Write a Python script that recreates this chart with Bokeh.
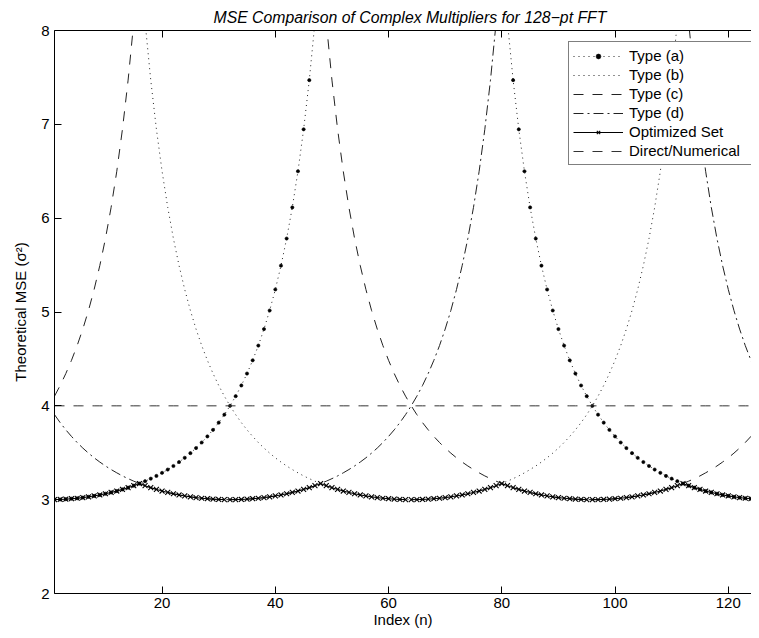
from bokeh.plotting import figure
from bokeh.models import Range1d, LinearAxis, FixedTicker, Legend, LegendItem, Title
from bokeh.embed import file_html
from bokeh.resources import INLINE

nan = float("nan")

# Index n
N = list(range(1, 128))

X_TICKS = [20, 40, 60, 80, 100, 120]
Y_TICKS = [2, 3, 4, 5, 6, 7, 8]

# Type (a): minimum at n=0/128, singular at n=64
TYPE_A = ([3.001, 3.002, 3.005, 3.010, 3.015, 3.022, 3.030, 3.040, 3.050, 3.063,
           3.077, 3.092, 3.109, 3.128, 3.149, 3.172, 3.197, 3.224, 3.253, 3.286,
           3.321, 3.359, 3.401, 3.446, 3.496, 3.550, 3.609, 3.674, 3.744, 3.821,
           3.906, 4.000, 4.103, 4.217, 4.344, 4.485, 4.642, 4.818, 5.016, 5.240,
           5.494, 5.783, 6.115, 6.500, 6.947, 7.471, 8.089, 8.828, 9.723]
          + [nan] * 29 +
          [9.723, 8.828, 8.089, 7.471, 6.947, 6.500, 6.115, 5.783, 5.494, 5.240,
           5.016, 4.818, 4.642, 4.485, 4.344, 4.217, 4.103, 4.000, 3.906, 3.821,
           3.744, 3.674, 3.609, 3.550, 3.496, 3.446, 3.401, 3.359, 3.321, 3.286,
           3.253, 3.224, 3.197, 3.172, 3.149, 3.128, 3.109, 3.092, 3.077, 3.063,
           3.050, 3.040, 3.030, 3.022, 3.015, 3.010, 3.005, 3.002, 3.001])

# Type (b): minimum at n=64
TYPE_B = ([nan] * 14 +
          [9.723, 8.828, 8.089, 7.471, 6.947, 6.500, 6.115, 5.783, 5.494, 5.240,
           5.016, 4.818, 4.642, 4.485, 4.344, 4.217, 4.103, 4.000, 3.906, 3.821,
           3.744, 3.674, 3.609, 3.550, 3.496, 3.446, 3.401, 3.359, 3.321, 3.286,
           3.253, 3.224, 3.197, 3.172, 3.149, 3.128, 3.109, 3.092, 3.077, 3.063,
           3.050, 3.040, 3.030, 3.022, 3.015, 3.010, 3.005, 3.002, 3.001, 3.000,
           3.001, 3.002, 3.005, 3.010, 3.015, 3.022, 3.030, 3.040, 3.050, 3.063,
           3.077, 3.092, 3.109, 3.128, 3.149, 3.172, 3.197, 3.224, 3.253, 3.286,
           3.321, 3.359, 3.401, 3.446, 3.496, 3.550, 3.609, 3.674, 3.744, 3.821,
           3.906, 4.000, 4.103, 4.217, 4.344, 4.485, 4.642, 4.818, 5.016, 5.240,
           5.494, 5.783, 6.115, 6.500, 6.947, 7.471, 8.089, 8.828, 9.723]
          + [nan] * 14)

# Type (c): minimum at n=96, singular at n=32
TYPE_C = ([4.103, 4.217, 4.344, 4.485, 4.642, 4.818, 5.016, 5.240, 5.494, 5.783,
           6.115, 6.500, 6.947, 7.471, 8.089, 8.828, 9.723]
          + [nan] * 29 +
          [9.723, 8.828, 8.089, 7.471, 6.947, 6.500, 6.115, 5.783, 5.494, 5.240,
           5.016, 4.818, 4.642, 4.485, 4.344, 4.217, 4.103, 4.000, 3.906, 3.821,
           3.744, 3.674, 3.609, 3.550, 3.496, 3.446, 3.401, 3.359, 3.321, 3.286,
           3.253, 3.224, 3.197, 3.172, 3.149, 3.128, 3.109, 3.092, 3.077, 3.063,
           3.050, 3.040, 3.030, 3.022, 3.015, 3.010, 3.005, 3.002, 3.001, 3.000,
           3.001, 3.002, 3.005, 3.010, 3.015, 3.022, 3.030, 3.040, 3.050, 3.063,
           3.077, 3.092, 3.109, 3.128, 3.149, 3.172, 3.197, 3.224, 3.253, 3.286,
           3.321, 3.359, 3.401, 3.446, 3.496, 3.550, 3.609, 3.674, 3.744, 3.821,
           3.906])

# Type (d): minimum at n=32, singular at n=96
TYPE_D = ([3.906, 3.821, 3.744, 3.674, 3.609, 3.550, 3.496, 3.446, 3.401, 3.359,
           3.321, 3.286, 3.253, 3.224, 3.197, 3.172, 3.149, 3.128, 3.109, 3.092,
           3.077, 3.063, 3.050, 3.040, 3.030, 3.022, 3.015, 3.010, 3.005, 3.002,
           3.001, 3.000,
           3.001, 3.002, 3.005, 3.010, 3.015, 3.022, 3.030, 3.040, 3.050, 3.063,
           3.077, 3.092, 3.109, 3.128, 3.149, 3.172, 3.197, 3.224, 3.253, 3.286,
           3.321, 3.359, 3.401, 3.446, 3.496, 3.550, 3.609, 3.674, 3.744, 3.821,
           3.906, 4.000, 4.103, 4.217, 4.344, 4.485, 4.642, 4.818, 5.016, 5.240,
           5.494, 5.783, 6.115, 6.500, 6.947, 7.471, 8.089, 8.828, 9.723]
          + [nan] * 29 +
          [9.723, 8.828, 8.089, 7.471, 6.947, 6.500, 6.115, 5.783, 5.494, 5.240,
           5.016, 4.818, 4.642, 4.485, 4.344, 4.217, 4.103])

# Optimized set (best of the four types at each n)
OPTIMIZED = [3.001, 3.002, 3.005, 3.010, 3.015, 3.022, 3.030, 3.040, 3.050, 3.063,
             3.077, 3.092, 3.109, 3.128, 3.149, 3.172, 3.149, 3.128, 3.109, 3.092,
             3.077, 3.063, 3.050, 3.040, 3.030, 3.022, 3.015, 3.010, 3.005, 3.002,
             3.001,
             3.000, 3.001, 3.002, 3.005, 3.010, 3.015, 3.022, 3.030, 3.040, 3.050,
             3.063, 3.077, 3.092, 3.109, 3.128, 3.149, 3.172, 3.149, 3.128, 3.109,
             3.092, 3.077, 3.063, 3.050, 3.040, 3.030, 3.022, 3.015, 3.010, 3.005,
             3.002, 3.001,
             3.000, 3.001, 3.002, 3.005, 3.010, 3.015, 3.022, 3.030, 3.040, 3.050,
             3.063, 3.077, 3.092, 3.109, 3.128, 3.149, 3.172, 3.149, 3.128, 3.109,
             3.092, 3.077, 3.063, 3.050, 3.040, 3.030, 3.022, 3.015, 3.010, 3.005,
             3.002, 3.001,
             3.000, 3.001, 3.002, 3.005, 3.010, 3.015, 3.022, 3.030, 3.040, 3.050,
             3.063, 3.077, 3.092, 3.109, 3.128, 3.149, 3.172, 3.149, 3.128, 3.109,
             3.092, 3.077, 3.063, 3.050, 3.040, 3.030, 3.022, 3.015, 3.010, 3.005,
             3.002, 3.001]
OPT_SEGMENT_STARTS = [1, 32, 64, 96]

DIRECT_MSE = 4.0
DIRECT = [DIRECT_MSE] * len(N)

FONT = "Liberation Sans"

p = figure(width=751, height=630, x_range=Range1d(1, 124.1), y_range=Range1d(2, 8),
           output_backend="svg", toolbar_location=None, title=None,
           min_border_left=54, min_border_right=0, min_border_top=30, min_border_bottom=37)
p.outline_line_color = None
p.xgrid.visible = False
p.ygrid.visible = False
p.background_fill_color = "white"
p.border_fill_color = "white"

for ax in (p.xaxis[0], p.yaxis[0]):
    ax.major_tick_in = 7
    ax.major_tick_out = 0
    ax.minor_tick_in = 0
    ax.minor_tick_out = 0
    ax.axis_line_color = "black"
    ax.major_tick_line_color = "black"
    ax.major_label_text_font = FONT
    ax.major_label_text_font_size = "15px"
    ax.major_label_text_color = "black"
    ax.axis_label_text_font = FONT
    ax.axis_label_text_font_size = "15px"
    ax.axis_label_text_font_style = "normal"
    ax.axis_label_text_color = "black"

p.xaxis[0].ticker = FixedTicker(ticks=X_TICKS)
p.xaxis[0].major_label_standoff = 4
p.xaxis[0].axis_label = "Index (n)"
p.xaxis[0].axis_label_standoff = 0

p.yaxis[0].ticker = FixedTicker(ticks=Y_TICKS)
p.yaxis[0].major_label_standoff = 5
p.yaxis[0].axis_label = "Theoretical MSE (σ²)"
p.yaxis[0].axis_label_standoff = 9

top = LinearAxis(ticker=FixedTicker(ticks=X_TICKS),
                 major_label_overrides={t: "" for t in X_TICKS},
                 major_label_text_font_size="1px",
                 major_label_standoff=0, major_tick_in=7, major_tick_out=0,
                 minor_tick_in=0, minor_tick_out=0, axis_line_color="black",
                 major_tick_line_color="black")
p.add_layout(top, "above")

p.add_layout(Title(text="MSE Comparison of Complex Multipliers for 128\u2212pt FFT",
                   align="left", offset=159, standoff=9, text_font=FONT,
                   text_font_size="15.8px", text_font_style="italic",
                   text_color="black"), "above")

LW = 1
DOT = "1 4"
DASH = "10 9"
DASHDOT = "10 4 2 4"
ra_line = p.line(N, TYPE_A, line_color="#222222", line_width=LW, line_dash=DOT)
ra_dots = p.scatter(N, TYPE_A, marker="circle", size=3.2, fill_color="black",
                    line_color="black", line_width=0.6)
rb = p.line(N, TYPE_B, line_color="#222222", line_width=LW, line_dash=DOT)
rc = p.line(N, TYPE_C, line_color="#222222", line_width=LW, line_dash=DASH)
rd = p.line(N, TYPE_D, line_color="#222222", line_width=LW, line_dash=DASHDOT)

opt_lines = []
bounds = OPT_SEGMENT_STARTS + [N[-1] + 1]
for s, e in zip(bounds[:-1], bounds[1:]):
    i0, i1 = N.index(s), N.index(e - 1) + 1
    opt_lines.append(p.line(N[i0:i1], OPTIMIZED[i0:i1], line_color="black", line_width=LW))
opt_x = p.scatter(N, OPTIMIZED, marker="x", size=7, line_color="black", line_width=1.1)

rdir = p.line(N, DIRECT, line_color="#333333", line_width=LW, line_dash=DASH)

legend = Legend(items=[
    LegendItem(label="Type (a)", renderers=[ra_line, ra_dots]),
    LegendItem(label="Type (b)", renderers=[rb]),
    LegendItem(label="Type (c)", renderers=[rc]),
    LegendItem(label="Type (d)", renderers=[rd]),
    LegendItem(label="Optimized Set", renderers=[opt_lines[0], opt_x]),
    LegendItem(label="Direct/Numerical", renderers=[rdir]),
], location=(514, 428), orientation="vertical",
    border_line_color="black", border_line_width=1, background_fill_color="white",
    background_fill_alpha=1, label_text_font=FONT, label_text_font_size="15px",
    label_text_color="black", padding=4, spacing=0, label_height=19, glyph_height=12,
    glyph_width=50, label_standoff=6, label_width=118, margin=0)
p.add_layout(legend)

open("out.html", "w").write(file_html(p, INLINE))
